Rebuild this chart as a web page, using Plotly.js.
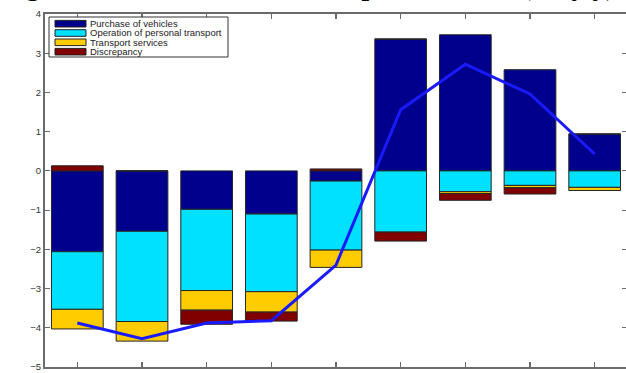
<!DOCTYPE html>
<html>
<head>
<meta charset="utf-8">
<script src="https://cdn.plot.ly/plotly-3.0.1.min.js"></script>
<style>
  html, body { margin: 0; padding: 0; overflow: hidden; background: #fff; }
  #chart { width: 628px; height: 373px; }
</style>
</head>
<body>
<div id="chart"></div>
<script>
// Monthly contributions to transport inflation, percentage points (y/y)
const months = ['2015-01', '2015-02', '2015-03', '2015-04', '2015-05', '2015-06', '2015-07', '2015-08', '2015-09'];
const purchaseOfVehicles = [-2.06, -1.54, -0.98, -1.10, -0.26, 3.36, 3.47, 2.58, 0.94];
const operationOfTransport = [-1.47, -2.30, -2.07, -1.98, -1.76, -1.56, -0.53, -0.37, -0.42];
const transportServices = [-0.50, -0.50, -0.50, -0.52, -0.44, 0.00, -0.05, -0.06, -0.08];
const discrepancy = [0.13, 0.00, -0.36, -0.23, 0.05, -0.23, -0.17, -0.16, 0.00];
const totalInflation = [-3.88, -4.28, -3.88, -3.82, -2.40, 1.56, 2.72, 1.96, 0.43];

const seriesNames = ['Purchase of vehicles', 'Operation of personal transport', 'Transport services', 'Discrepancy'];
const seriesColors = ['#00008c', '#00e0ff', '#ffcc00', '#800000'];
const seriesValues = [purchaseOfVehicles, operationOfTransport, transportServices, discrepancy];

const W = 628, H = 373;
const M = { l: 45, r: 1, t: 14, b: 6 };

// pixel -> paper helpers for the hand-drawn legend box
const px = v => (v - M.l) / (W - M.l - M.r);
const py = v => (H - M.b - v) / (H - M.t - M.b);

const traces = seriesNames.map((name, i) => ({
  type: 'bar',
  name: name,
  x: months,
  y: seriesValues[i],
  marker: { color: seriesColors[i], line: { color: '#262626', width: 1 } },
  hoverinfo: 'x+y+name'
}));

traces.push({
  type: 'scatter',
  mode: 'lines',
  name: 'Total',
  x: months,
  y: totalInflation,
  line: { color: '#1a1aff', width: 3 }
});

// legend: box, colour swatches and labels
const shapes = [{
  type: 'rect', xref: 'paper', yref: 'paper', layer: 'above',
  x0: px(49), x1: px(228), y0: py(57), y1: py(17),
  fillcolor: '#ffffff', line: { color: '#333333', width: 1 }
}];
const annotations = [];
const rowY = [23.7, 33, 42.3, 51.7];
seriesNames.forEach((name, i) => {
  shapes.push({
    type: 'rect', xref: 'paper', yref: 'paper', layer: 'above',
    x0: px(55), x1: px(86), y0: py(rowY[i] + 3.3), y1: py(rowY[i] - 3.3),
    fillcolor: seriesColors[i], line: { color: '#222222', width: 1 }
  });
  annotations.push({
    xref: 'paper', yref: 'paper', x: px(88.5), y: py(rowY[i]),
    xanchor: 'left', yanchor: 'middle', showarrow: false, borderpad: 0,
    text: name, font: { family: 'Liberation Sans, Arial, sans-serif', size: 9.5, color: '#222' }
  });
});

// figure caption running off the top edge
annotations.push({
  xref: 'paper', yref: 'paper', x: px(616), y: py(2),
  xanchor: 'right', yanchor: 'bottom', showarrow: false, borderpad: 0,
  text: '<b>Figure 4: Contribution to transport inflation (%, y/y)</b>',
  font: { family: 'Liberation Serif, Times New Roman, serif', size: 27, color: '#000' }
});

const axisStyle = {
  showline: true, linecolor: '#6b6b6b', linewidth: 2, mirror: 'ticks',
  ticks: 'inside', ticklen: 5, tickwidth: 1.2, tickcolor: '#6b6b6b',
  showgrid: false, zeroline: false, fixedrange: true,
  tickfont: { family: 'Liberation Sans, Arial, sans-serif', size: 9.5, color: '#333' }
};

const layout = {
  width: W, height: H,
  margin: M,
  paper_bgcolor: '#ffffff', plot_bgcolor: '#ffffff',
  showlegend: false,
  barmode: 'relative',
  bargap: 0.2,
  xaxis: Object.assign({}, axisStyle, {
    type: 'category', range: [-0.5, 8.5],
    tickfont: { family: 'Liberation Sans, Arial, sans-serif', size: 10, color: '#333' }
  }),
  yaxis: Object.assign({}, axisStyle, { range: [-5, 4], dtick: 1, tick0: 0 }),
  shapes: shapes,
  annotations: annotations
};

Plotly.newPlot('chart', traces, layout, { displayModeBar: false, staticPlot: true });
</script>
</body>
</html>
